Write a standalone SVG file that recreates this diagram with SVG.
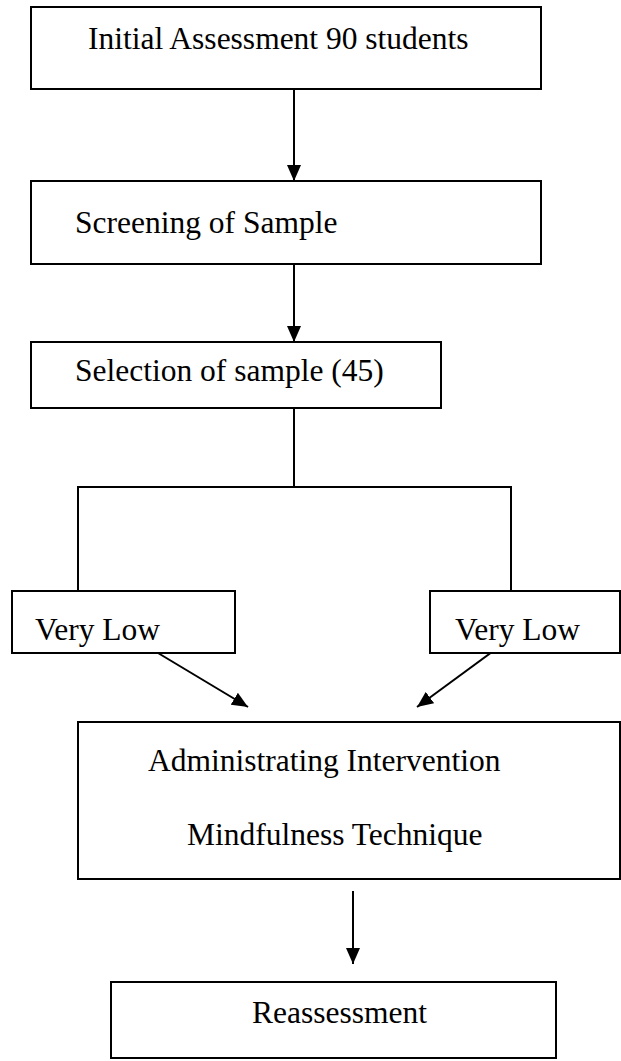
<svg xmlns="http://www.w3.org/2000/svg" width="621" height="1061" viewBox="0 0 621 1061">
<style>
.box{fill:#fff;stroke:#000;stroke-width:2}
.t{font-family:"Liberation Serif","Times New Roman",serif;font-size:31.5px;fill:#000}
.c{fill:none;stroke:#000;stroke-width:2}
</style>
<defs>
<marker id="ah" markerWidth="16" markerHeight="14" refX="16" refY="7" orient="auto" markerUnits="userSpaceOnUse" viewBox="0 0 16 14">
<path d="M0,0 L16,7 L0,14 z" fill="#000"/>
</marker>
</defs>
<rect width="621" height="1061" fill="#fff"/>
<g id="connectors">
<line class="c" x1="294" y1="89" x2="294" y2="181" marker-end="url(#ah)"/>
<line class="c" x1="294" y1="264" x2="294" y2="342" marker-end="url(#ah)"/>
<polyline class="c" points="294,408 294,487"/>
<polyline class="c" points="78,591 78,487 511,487 511,591"/>
<line class="c" x1="133" y1="638" x2="248" y2="707" marker-end="url(#ah)"/>
<line class="c" x1="511" y1="638" x2="417" y2="707" marker-end="url(#ah)"/>
<line class="c" x1="353" y1="891" x2="353" y2="964" marker-end="url(#ah)"/>
</g>
<g id="n1"><rect class="box" x="31" y="7" width="510" height="82"/><text class="t" x="88" y="49">Initial Assessment 90 students</text></g>
<g id="n2"><rect class="box" x="31" y="181" width="510" height="83"/><text class="t" x="75" y="233">Screening of Sample</text></g>
<g id="n3"><rect class="box" x="31" y="342" width="410" height="66"/><text class="t" x="75" y="381">Selection of sample (45)</text></g>
<g id="n4"><rect class="box" x="12" y="591" width="223" height="62"/><text class="t" x="35" y="640">Very Low</text></g>
<g id="n5"><rect class="box" x="430" y="591" width="190" height="62"/><text class="t" x="455" y="640">Very Low</text></g>
<g id="n6"><rect class="box" x="78" y="722" width="542" height="157"/><text class="t" x="148" y="771">Administrating Intervention</text><text class="t" x="187" y="845">Mindfulness Technique</text></g>
<g id="n7"><rect class="box" x="111" y="982" width="445" height="76"/><text class="t" x="252" y="1023">Reassessment</text></g>
</svg>
